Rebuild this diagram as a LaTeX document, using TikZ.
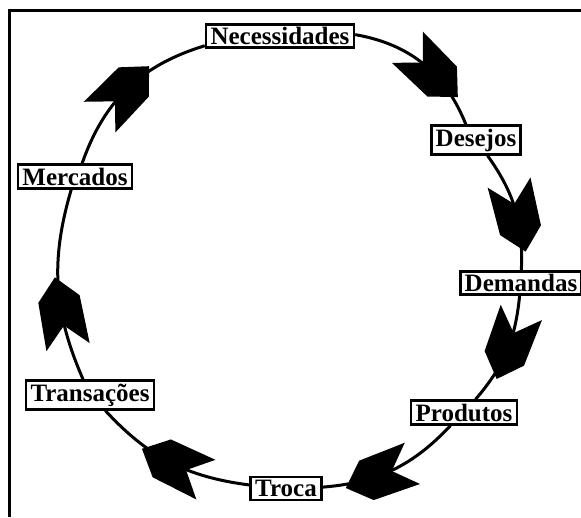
\documentclass[tikz,border=0pt]{standalone}
\usepackage{fontspec}
\setmainfont{Liberation Serif}
\usetikzlibrary{decorations.markings}
\begin{document}
\begin{tikzpicture}[x=1pt,y=1pt,
  stage/.style={draw, line width=2.6pt, fill=white, inner xsep=4.5pt, inner ysep=3pt,
    font=\bfseries\fontsize{25}{30}\selectfont},
  link/.style 2 args={line width=3pt, bend left=#1,
    decoration={markings, mark=at position #2 with {
      \fill[black] (-35,22) -- (-13,0) -- (-35,-22) -- (14,-21) -- (36,0) -- (14,21) -- cycle;}},
    postaction=decorate}]
\useasboundingbox (0,0) rectangle (581,517);
% outer frame (top and left sides)
\draw[line width=3pt] (9,0) -- (9,506) -- (581,506);

% stages of the cycle
\node[stage] (nec) at (280,481)   {Necessidades};
\node[stage] (des) at (476,377)   {Desejos};
\node[stage] (dem) at (521,234)   {Demandas};
\node[stage] (pro) at (464,104.5) {Produtos};
\node[stage] (tro) at (286,28.5)  {Troca};
\node[stage] (tra) at (90,122)    {Transações};
\node[stage] (mer) at (75,340.5)  {Mercados};

% clockwise connectors with heavy arrowheads
\draw[link={29}{0.58}]   (nec) to (des);
\draw[link={19}{0.56}]   (des) to (dem);
\draw[link={17.5}{0.44}] (dem) to (pro);
\draw[link={21}{0.60}]   (pro) to (tro);
\draw[link={20}{0.47}]   (tro) to (tra);
\draw[link={20}{0.36}]   (tra) to (mer);
\draw[link={27}{0.47}]   (mer) to (nec);
\end{tikzpicture}
\end{document}
